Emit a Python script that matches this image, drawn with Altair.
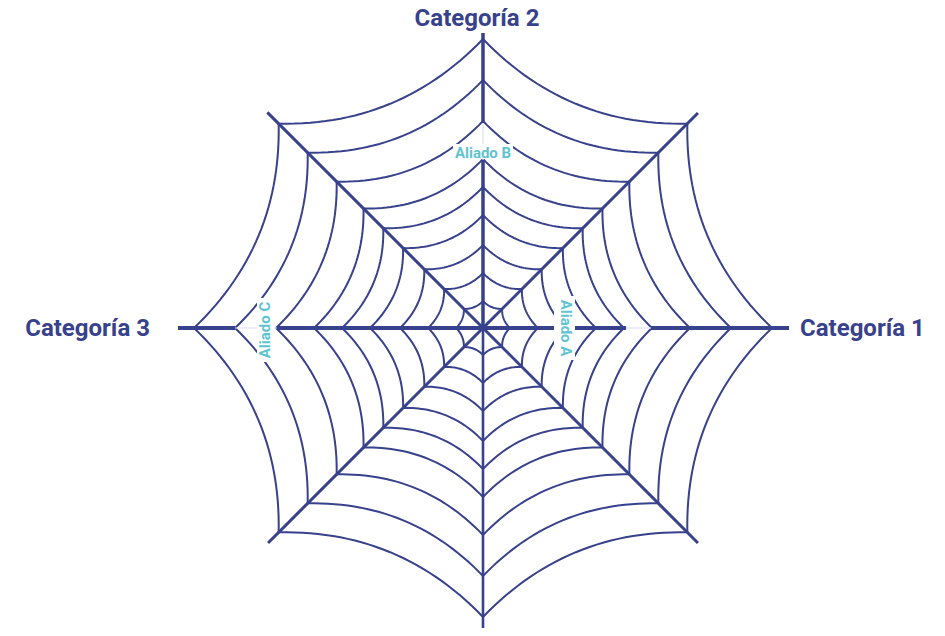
import math
import altair as alt
import pandas as pd

# ---- data -------------------------------------------------------------
spoke_angles = [0, 45, 90, 135, 180, 225, 270, 315]          # degrees
spoke_lengths = [306, 304, 295, 305, 305, 304, 320, 304]      # radius units
ring_radii = [27, 55, 83, 113, 141, 169, 207, 248, 289]
ring_sag = 0.11  # inward bow of each thread, as share of its chord

# thick segments of the main axes (start radius, end radius)
axis_names = ["Categoría 1", "Categoría 2", "Categoría 3"]
axis_angles = [0, 90, 180]
axis_segments = [[(0, 71), (91, 143), (168, 306)],
                 [(0, 168), (205, 295)],
                 [(0, 206), (248, 305)]]
axis_faint = [[(143, 168)], [(168, 205)], [(206, 248)]]

# category label anchors (x, baseline y) and alignment
cat_x = [317, -6, -333]
cat_y = [-8, 302, -8]
cat_align = ["left", "center", "right"]

# ally labels: centre position, rotation, and white backing box
ally_names = ["Aliado A", "Aliado B", "Aliado C"]
ally_x = [83, 0, -218]
ally_y = [0, 175, -2]
ally_rotation = [90, 0, 270]
box_x = [71, -30, -226]
box_x2 = [92, 30, -209]
box_y = [-32, 169, -34]
box_y2 = [32, 184, 30]

NAVY = "#37418c"
TEAL = "#5ec4d0"
FAINT = "#dcdff0"

# ---- build tables ---------------------------------------------------------
def pt(r, a):
    t = math.radians(a)
    return r * math.cos(t), r * math.sin(t)

rows = []
n_steps = 30
for k, r in enumerate(ring_radii):
    for i in range(len(spoke_angles)):
        a1 = spoke_angles[i]
        a2 = spoke_angles[(i + 1) % len(spoke_angles)]
        x1, y1 = pt(r, a1)
        x2, y2 = pt(r, a2)
        chord = math.hypot(x2 - x1, y2 - y1)
        mx, my = (x1 + x2) / 2, (y1 + y2) / 2
        ml = math.hypot(mx, my)
        nx, ny = mx / ml, my / ml
        s = ring_sag * chord
        for j in range(n_steps + 1):
            u = j / n_steps
            bow = s * 4 * u * (1 - u)
            rows.append({"arc": f"{k}-{i}", "o": j,
                         "x": x1 + u * (x2 - x1) - nx * bow,
                         "y": y1 + u * (y2 - y1) - ny * bow})
threads = pd.DataFrame(rows)

spokes = []
for a, L in zip(spoke_angles, spoke_lengths):
    if a in axis_angles:
        continue
    x2, y2 = pt(L, a)
    spokes.append({"x": 0, "y": 0, "x2": x2, "y2": y2,
                   "w": 2.6 if a == 270 else 3.0})
spokes = pd.DataFrame(spokes)

thick, faint = [], []
for a, segs, fs in zip(axis_angles, axis_segments, axis_faint):
    w = 3.5 if a == 90 else 4.2
    for r0, r1 in segs:
        xa, ya = pt(r0, a)
        xb, yb = pt(r1, a)
        thick.append({"x": xa, "y": ya, "x2": xb, "y2": yb, "w": w})
    for r0, r1 in fs:
        xa, ya = pt(r0, a)
        xb, yb = pt(r1, a)
        faint.append({"x": xa, "y": ya, "x2": xb, "y2": yb})
thick = pd.DataFrame(thick)
faint = pd.DataFrame(faint)

boxes = pd.DataFrame({"x": box_x, "x2": box_x2, "y": box_y, "y2": box_y2})

# ---- scales -----------------------------------------------------------
W, H = 929, 620
xs = alt.Scale(domain=[-475, 454], nice=False, zero=False)
ys = alt.Scale(domain=[-300, 320], nice=False, zero=False)
X = lambda f="x": alt.X(f"{f}:Q", scale=xs, axis=None)
Y = lambda f="y": alt.Y(f"{f}:Q", scale=ys, axis=None)

thread_layer = alt.Chart(threads).mark_line(
    color=NAVY, strokeWidth=2, clip=False
).encode(x=X(), y=Y(), detail="arc:N", order="o:Q")

spoke_layer = alt.Chart(spokes).mark_rule(
    color=NAVY, strokeCap="butt", clip=False
).encode(x=X(), y=Y(), x2="x2:Q", y2="y2:Q",
         strokeWidth=alt.StrokeWidth("w:Q", scale=None))

faint_layer = alt.Chart(faint).mark_rule(
    color=FAINT, strokeWidth=1.2, clip=False
).encode(x=X(), y=Y(), x2="x2:Q", y2="y2:Q")

thick_layer = alt.Chart(thick).mark_rule(
    color=NAVY, strokeCap="butt", clip=False
).encode(x=X(), y=Y(), x2="x2:Q", y2="y2:Q",
         strokeWidth=alt.StrokeWidth("w:Q", scale=None))

box_layer = alt.Chart(boxes).mark_rect(
    color="white", clip=False
).encode(x=X(), y=Y(), x2="x2:Q", y2="y2:Q")

cat_layers = []
for name, cx, cy, al in zip(axis_names, cat_x, cat_y, cat_align):
    df = pd.DataFrame({"label": [name], "x": [cx], "y": [cy]})
    cat_layers.append(
        alt.Chart(df).mark_text(
            font="Roboto", fontWeight="bold", fontSize=24, color=NAVY,
            align=al, baseline="alphabetic", clip=False
        ).encode(x=X(), y=Y(), text="label:N")
    )

ally_layers = []
for name, ax, ay, rot in zip(ally_names, ally_x, ally_y, ally_rotation):
    df = pd.DataFrame({"label": [name], "x": [ax], "y": [ay]})
    ally_layers.append(
        alt.Chart(df).mark_text(
            font="Roboto", fontWeight="bold", fontSize=15, color=TEAL,
            align="center", baseline="middle", angle=rot, clip=False
        ).encode(x=X(), y=Y(), text="label:N")
    )

chart = alt.layer(
    thread_layer, spoke_layer, thick_layer, faint_layer, box_layer,
    *cat_layers, *ally_layers
).properties(
    width=W, height=H, padding=0,
    autosize=alt.AutoSizeParams(type="none")
).configure_view(stroke=None)

chart.save("out.html", embed_options={"renderer": "svg", "actions": False})
